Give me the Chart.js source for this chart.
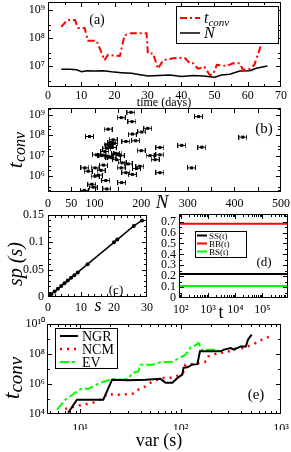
<!DOCTYPE html>
<html>
<head>
<meta charset="utf-8">
<script src="https://cdn.jsdelivr.net/npm/chart.js@4.4.1/dist/chart.umd.min.js"></script>
<style>
  body { margin: 0; background: #fff; }
  #fig { position: relative; width: 291px; height: 452px; overflow: hidden; }
  #fig canvas { position: absolute; left: 0; top: 0; }
</style>
</head>
<body>
<div id="fig">
  <canvas id="panelA" width="291" height="452"></canvas>
  <canvas id="panelB" width="291" height="452"></canvas>
  <canvas id="panelC" width="291" height="452"></canvas>
  <canvas id="panelD" width="291" height="452"></canvas>
  <canvas id="panelE" width="291" height="452"></canvas>
</div>
<script>
// ---------- values ----------

// (a) convergence time and N against time (days)
const tconvDay = [4, 5.7, 8.1, 9, 11, 12, 14.6, 17, 18, 21.6, 23, 25, 29.6, 30, 31.6, 33, 34.6, 37.6, 41, 42.6,
                  43.6, 45, 47, 48.6, 49.6, 50.7, 53.7, 55.6, 57.6, 58.6, 60.6, 62, 64, 64.6, 65.7];
const tconvVal = [2.5e8, 4.4e8, 4.4e8, 2.3e8, 2.3e8, 8e7, 8e7, 1.6e7, 2.5e7, 2.3e7, 1.26e8, 1.5e8, 1.5e8, 2.8e7, 2.8e7,
                  8e6, 1.6e7, 1.9e7, 2e7, 1.26e7, 1.26e7, 8e6, 9.3e6, 4.8e6, 5e6, 1.1e7, 1e7, 1.26e7, 1.26e7, 7.2e6,
                  8e6, 1.1e7, 5.6e7, 1.26e8, 1.26e8];
const nDay = [4, 6.6, 8.6, 10.1, 11.6, 14, 16.6, 19.1, 22.1, 25.1, 28.1, 30.1, 33.1, 36.6, 40.1, 43.6, 46.6, 50.1,
              52.1, 54.6, 57.6, 60.6, 62.6, 65.9];
const nVal = [7.6e6, 7.6e6, 7.4e6, 6.3e6, 6.8e6, 6.6e6, 6.8e6, 6.2e6, 5.8e6, 5.5e6, 4.8e6, 4.4e6, 4.6e6, 4.8e6,
              4.2e6, 4.6e6, 4.4e6, 4e6, 4.8e6, 5.1e6, 6.6e6, 6.8e6, 8.3e6, 1e7];

// (b) t_conv against N (points with horizontal error bars)
const bN = [178, 157, 180, 214, 129, 201, 181, 89, 140, 167, 188, 137, 129, 138, 126, 240, 122, 200, 104, 115,
            129, 155, 219, 240, 137, 147, 230, 159, 172, 119, 197, 79, 101, 157, 114, 190, 86, 108, 101, 167,
            181, 240, 124, 158, 94, 97, 126, 78, 133, 141, 145, 150, 118, 133, 323, 418, 287, 330, 308];
const bT = [1.35e9, 7.4e8, 4.7e8, 2.2e8, 2e8, 1.45e8, 1.15e8, 8.7e7, 6e7, 5e7, 5.4e7, 4.5e7, 3.5e7, 2.5e7, 2.3e7,
            2.5e7, 1.6e7, 1.75e7, 1.1e7, 1e7, 9.3e6, 1e7, 1e7, 1.1e7, 7.8e6, 6.3e6, 6.3e6, 4.4e6, 3.9e6, 3.4e6,
            3e6, 2.5e6, 2.5e6, 2.5e6, 1.9e6, 2.3e6, 1.7e6, 1.1e6, 9.8e5, 1.45e6, 1.2e6, 1.45e6, 6e5, 4.7e5, 3.9e5,
            2.8e5, 2.3e5, 1.95e5, 3e7, 4e7, 1.3e7, 1.2e7, 1.05e7, 8.5e6, 8.3e8, 8.1e7, 3.2e7, 2.6e7, 2.5e6];

// (c) sp(s) against s
const cS  = [0.5, 1, 2, 3, 4, 5, 6, 7, 8, 9, 12, 20, 21, 26, 28.5];
const cSp = [0.003, 0.005, 0.01, 0.015, 0.02, 0.025, 0.03, 0.035, 0.04, 0.045, 0.06, 0.1, 0.105, 0.13, 0.14];

// (d) SS, BB, BS fractions against t
const dT  = [85, 8.7e5];
const dSS = [0.22, 0.22];
const dBB = [0.68, 0.68];
const dBS = [0.11, 0.11];

// (e) t_conv against var(s)
const ngrVar = [7.6, 9.3, 17, 20.8, 30, 45, 63, 71, 83, 93, 104, 107, 117, 132, 147, 156, 200, 251, 271, 316,
                339, 398, 447, 469, 510];
const ngrT = [1.2e4, 9e4, 9e4, 1.95e6, 1.8e6, 1.95e6, 2.2e6, 1.2e6, 1.2e6, 2.5e6, 4.2e6, 1.2e7, 1.3e7, 2e7, 2.1e7,
              1.5e8, 1.5e8, 1.5e8, 1.95e8, 2.5e8, 1.95e8, 3.2e8, 3.2e8, 9e8, 1.95e9];
const ncmVar = [7.1, 8.3, 10, 12, 14.1, 16.6, 18.5, 24, 29.5, 33.9, 38, 44.7, 52.5, 60, 67.6, 79.4, 91.2, 107, 112,
                135, 155, 182, 190, 240, 288, 339, 390, 468, 560, 675, 780];
const ncmT = [2.2e4, 2.8e4, 3.8e4, 4.7e4, 6.3e4, 1.05e5, 2.1e5, 1.95e5, 2.1e5, 2.3e5, 4.2e5, 7e5, 1.5e6, 1.95e6,
              2.5e6, 2.6e6, 3.2e6, 6.3e6, 1.95e7, 2.1e7, 2.5e7, 3.2e7, 6.9e7, 1.2e8, 1.26e8, 2.2e8, 2.2e8, 3.2e8,
              5.4e8, 1.05e9, 1.5e9];
const evVar = [5.9, 7.1, 9.3, 10.5, 12, 15.8, 20.9, 26.3, 30.2, 33.1, 38, 39.8, 52.5, 63, 83, 100, 112, 126, 135,
               151, 166, 186, 240];
const evT = [1.95e4, 8.9e4, 3.2e5, 5.4e5, 4.7e5, 1.2e6, 2.2e6, 1.95e6, 2.2e6, 5.4e6, 6.9e6, 1.95e7, 1.95e7, 2.8e7,
             3e7, 6e7, 9.1e7, 2.8e8, 3.2e8, 5.4e8, 1.66e8, 1.95e8, 1.95e8];

// ---------- helpers ----------
const FONT = '"Liberation Serif", "Times New Roman", serif';
const SUP = {'0': '\u2070', '1': '\u00b9', '2': '\u00b2', '3': '\u00b3', '4': '\u2074', '5': '\u2075',
             '6': '\u2076', '7': '\u2077', '8': '\u2078', '9': '\u2079'};

function pow10Label(v) {
  const e = Math.round(Math.log10(v));
  return '10' + String(e).split('').map(c => SUP[c]).join('');
}

function pts(xs, ys) {
  return xs.map((x, i) => ({x: x, y: ys[i]}));
}

// tick mark positions (not data)
function lin(a, b, step) {
  const out = [];
  for (let v = a; v <= b + 1e-9; v += step) out.push(+v.toFixed(6));
  return out;
}
function logs(e0, e1, mults) {
  const out = [];
  for (let e = e0; e <= e1; e++) mults.forEach(m => out.push(m * Math.pow(10, e)));
  return out;
}

function drawRich(ctx, it) {
  ctx.save();
  ctx.fillStyle = '#000';
  ctx.textBaseline = 'alphabetic';
  ctx.textAlign = 'left';
  ctx.translate(it.x, it.y);
  if (it.rot) ctx.rotate(it.rot);
  const fonts = it.parts.map(p => (p[2] ? 'italic ' : '') + p[1] + 'px ' + FONT);
  let total = 0;
  const widths = it.parts.map((p, i) => {
    ctx.font = fonts[i];
    const w = ctx.measureText(p[0]).width;
    total += w;
    return w;
  });
  let x = it.align === 'left' ? 0 : -total / 2;
  it.parts.forEach((p, i) => {
    ctx.font = fonts[i];
    ctx.fillText(p[0], x, p[3] || 0);
    x += widths[i];
  });
  ctx.restore();
}

// closed frame with inward ticks on all four sides
const frame = {
  id: 'frame',
  afterDatasetsDraw(chart, args, o) {
    const {ctx, chartArea: a} = chart;
    const sx = chart.scales.x, sy = chart.scales.y;
    ctx.save();
    ctx.strokeStyle = '#000';
    ctx.lineWidth = 1;
    ctx.setLineDash([]);
    ctx.beginPath();
    const mark = (vals, len, horiz) => {
      (vals || []).forEach(v => {
        if (horiz) {
          const p = Math.round(sx.getPixelForValue(v)) + 0.5;
          if (p < a.left || p > a.right) return;
          ctx.moveTo(p, a.bottom); ctx.lineTo(p, a.bottom - len);
          ctx.moveTo(p, a.top); ctx.lineTo(p, a.top + len);
        } else {
          const p = Math.round(sy.getPixelForValue(v)) + 0.5;
          if (p < a.top || p > a.bottom) return;
          ctx.moveTo(a.left, p); ctx.lineTo(a.left + len, p);
          ctx.moveTo(a.right, p); ctx.lineTo(a.right - len, p);
        }
      });
    };
    mark(o.xMaj, 5, true);
    mark(o.xMin, 3, true);
    mark(o.yMaj, 5, false);
    mark(o.yMin, 3, false);
    ctx.stroke();
    ctx.strokeRect(a.left + 0.5, a.top + 0.5, a.width - 1, a.height - 1);
    ctx.restore();
  }
};

// free text: panel letters and axis titles
const notes = {
  id: 'notes',
  afterDraw(chart, args, o) {
    (o.items || []).forEach(it => drawRich(chart.ctx, it));
  }
};

// boxed legend inside the plot, built from the datasets
const keyBox = {
  id: 'keyBox',
  afterDraw(chart, args, o) {
    if (!o.box) return;
    const ctx = chart.ctx;
    const b = o.box;
    ctx.save();
    ctx.fillStyle = '#fff';
    ctx.fillRect(b[0], b[1], b[2] - b[0], b[3] - b[1]);
    ctx.strokeStyle = '#000';
    ctx.lineWidth = 1;
    ctx.strokeRect(b[0] + 0.5, b[1] + 0.5, b[2] - b[0], b[3] - b[1]);
    o.rows.forEach((y, i) => {
      const ds = chart.data.datasets[i];
      ctx.strokeStyle = ds.borderColor;
      ctx.lineWidth = ds.borderWidth;
      ctx.setLineDash(ds.borderDash || []);
      ctx.beginPath();
      ctx.moveTo(o.x0, y);
      ctx.lineTo(o.x1, y);
      ctx.stroke();
      ctx.setLineDash([]);
      const bits = ds.label.split('_');
      const parts = [[bits[0], o.size, o.italic, 0]];
      if (bits[1]) parts.push([bits[1], o.subSize, o.italic, o.subDy]);
      drawRich(ctx, {x: o.tx, y: y + o.dy, align: 'left', parts: parts});
    });
    ctx.restore();
  }
};

function fixedSize(size) {
  return function (scale) {
    if (scale.isHorizontal()) scale.height = size; else scale.width = size;
    scale.paddingLeft = scale.paddingRight = scale.paddingTop = scale.paddingBottom = 0;
  };
}

function axis(type, min, max, labels, fmt, pad, size) {
  return {
    type: type, min: min, max: max,
    grid: {display: false, drawTicks: false},
    border: {display: false},
    afterBuildTicks: s => { s.ticks = labels.map(v => ({value: v})); },
    afterFit: fixedSize(size),
    ticks: {autoSkip: false, maxRotation: 0, minRotation: 0, padding: pad, color: '#000',
            font: {family: FONT, size: 12}, callback: fmt}
  };
}

const Y_W = 40, X_H = 16;

function panel(id, area, xScale, yScale, datasets, frameOpts, noteItems, legendOpts) {
  return new Chart(document.getElementById(id), {
    type: 'scatter',
    data: {datasets: datasets},
    options: {
      responsive: false,
      animation: false,
      events: [],
      layout: {
        autoPadding: false,
        padding: {left: area.l - Y_W, top: area.t, right: 291 - area.r, bottom: 452 - area.b - X_H}
      },
      scales: {x: xScale, y: yScale},
      plugins: {
        legend: {display: false},
        tooltip: {enabled: false},
        frame: frameOpts,
        notes: {items: noteItems},
        keyBox: legendOpts || {}
      }
    },
    plugins: [frame, notes, keyBox]
  });
}

function lineSet(label, xs, ys, color, width, dash) {
  return {label: label, data: pts(xs, ys), showLine: true, borderColor: color, backgroundColor: color,
          borderWidth: width, borderDash: dash || [], pointRadius: 0, tension: 0, fill: false};
}

const str = v => String(v);
const HALF_PI = -Math.PI / 2;

// ---------- (a) ----------
panel('panelA', {l: 48, t: 2, r: 281, b: 87},
  axis('linear', 0, 70, lin(0, 70, 10), str, 2, X_H),
  axis('logarithmic', Math.pow(10, 6.25), Math.pow(10, 9.29), [1e7, 1e8, 1e9], pow10Label, 3, Y_W),
  [lineSet('t_conv', tconvDay, tconvVal, '#ff0000', 2, [7, 3, 2, 3]),
   lineSet('N', nDay, nVal, '#000000', 1.5)],
  {xMaj: lin(0, 70, 10), xMin: lin(5, 65, 10), yMaj: [1e7, 1e8, 1e9], yMin: logs(6, 8, [2, 3])},
  [{x: 97, y: 24, parts: [['(a)', 14, false]]},
   {x: 164, y: 106, parts: [['time (days)', 12, false]]}],
  {box: [176, 6, 278, 43], rows: [18, 33], x0: 180, x1: 200, tx: 204, size: 16, subSize: 11,
   italic: true, dy: 5, subDy: 3}
);

// ---------- (b) ----------
function errorBarGlyph() {
  const c = document.createElement('canvas');
  c.width = 9; c.height = 5;
  const g = c.getContext('2d');
  g.fillStyle = '#000';
  g.fillRect(0, 2, 9, 1);
  g.fillRect(0, 0, 1, 5);
  g.fillRect(8, 0, 1, 5);
  g.fillRect(3, 1, 3, 3);
  return c;
}

panel('panelB', {l: 48, t: 108, r: 281, b: 192},
  axis('linear', 0, 500, [0, 50, 100, 200, 300, 400, 500], str, 5, X_H),
  axis('logarithmic', Math.pow(10, 5.21), Math.pow(10, 9.34), [1e6, 1e7, 1e8, 1e9], pow10Label, 3, Y_W),
  [{label: 't_conv', data: pts(bN, bT), showLine: false, pointStyle: errorBarGlyph(), pointRadius: 4,
    borderColor: '#000', backgroundColor: '#000'}],
  {xMaj: lin(0, 500, 50), yMaj: [1e6, 1e7, 1e8, 1e9], yMin: logs(5, 9, [2, 3])},
  [{x: 264, y: 133, parts: [['(b)', 15, false]]},
   {x: 162, y: 208, parts: [['N', 19, true]]},
   {x: 22, y: 150, rot: HALF_PI, parts: [['t', 22, true, 0], ['conv', 16, true, 3]]}]
);

// ---------- (c) ----------
panel('panelC', {l: 48, t: 215, r: 147, b: 297},
  axis('linear', 0, 30, [0, 10, 20, 30], str, 4, X_H),
  axis('linear', 0, 0.15, [0, 0.05, 0.1, 0.15], str, 4, Y_W),
  [Object.assign(lineSet('sp', cS, cSp, '#000000', 1.5), {pointRadius: 2, pointBorderWidth: 0})],
  {xMaj: [0, 10, 20, 30], xMin: lin(2, 28, 2), yMaj: [0, 0.05, 0.1, 0.15], yMin: lin(0.01, 0.14, 0.01)},
  [{x: 116, y: 294, parts: [['(c)', 13, false]]},
   {x: 98, y: 311, parts: [['s', 18, true]]},
   {x: 22, y: 264, rot: HALF_PI, parts: [['sp (s)', 20, true]]}]
);

// ---------- (d) ----------
panel('panelD', {l: 179, t: 214, r: 288, b: 298},
  axis('logarithmic', 85, 8.7e5, [1e2, 1e3, 1e4, 1e5], pow10Label, 5, X_H),
  axis('linear', 0, 0.77, lin(0, 0.7, 0.1), v => String(+v.toFixed(1)), 3, Y_W),
  [lineSet('SS(t)', dT, dSS, '#000000', 2),
   lineSet('BB(t)', dT, dBB, '#ff0000', 2),
   lineSet('BS(t)', dT, dBS, '#00ff00', 2)],
  {xMaj: [1e2, 1e3, 1e4, 1e5], xMin: logs(1, 5, [2, 3, 4, 5, 6, 7, 8, 9]), yMaj: lin(0, 0.7, 0.1),
   yMin: lin(0.05, 0.75, 0.1)},
  [{x: 264, y: 266, parts: [['(d)', 13, false]]},
   {x: 221, y: 318, parts: [['t', 18, false]]}],
  {box: [195, 231, 246, 257], rows: [235.5, 243.5, 251.5], x0: 197, x1: 207, tx: 209, size: 9,
   italic: false, dy: 3}
);

// ---------- (e) ----------
panel('panelE', {l: 47, t: 324, r: 281, b: 414},
  axis('logarithmic', 4.68, 1000, [10, 100, 1000], pow10Label, 8, X_H),
  axis('logarithmic', 1e4, 1e10, [1e4, 1e6, 1e8, 1e10], pow10Label, 2, Y_W),
  [lineSet('NGR', ngrVar, ngrT, '#000000', 2),
   Object.assign(lineSet('NCM', ncmVar, ncmT, '#ff0000', 2.5, [2, 5]), {borderCapStyle: 'butt'}),
   lineSet('EV', evVar, evT, '#00ff00', 2, [9, 3, 3, 3])],
  {xMaj: [10, 100, 1000], xMin: logs(0, 2, [2, 3, 4, 5, 6, 7, 8, 9]), yMaj: [1e4, 1e6, 1e8, 1e10],
   yMin: [1e5, 1e7, 1e9]},
  [{x: 256, y: 399, parts: [['(e)', 15, false]]},
   {x: 159, y: 446, parts: [['var (s)', 18, false]]},
   {x: 19, y: 378, rot: HALF_PI, parts: [['t', 24, true, 0], ['conv', 19, true, 3]]}],
  {box: [55, 328, 117, 368], rows: [336, 349, 362], x0: 60, x1: 78, tx: 82, size: 14,
   italic: false, dy: 5}
);
</script>
</body>
</html>
